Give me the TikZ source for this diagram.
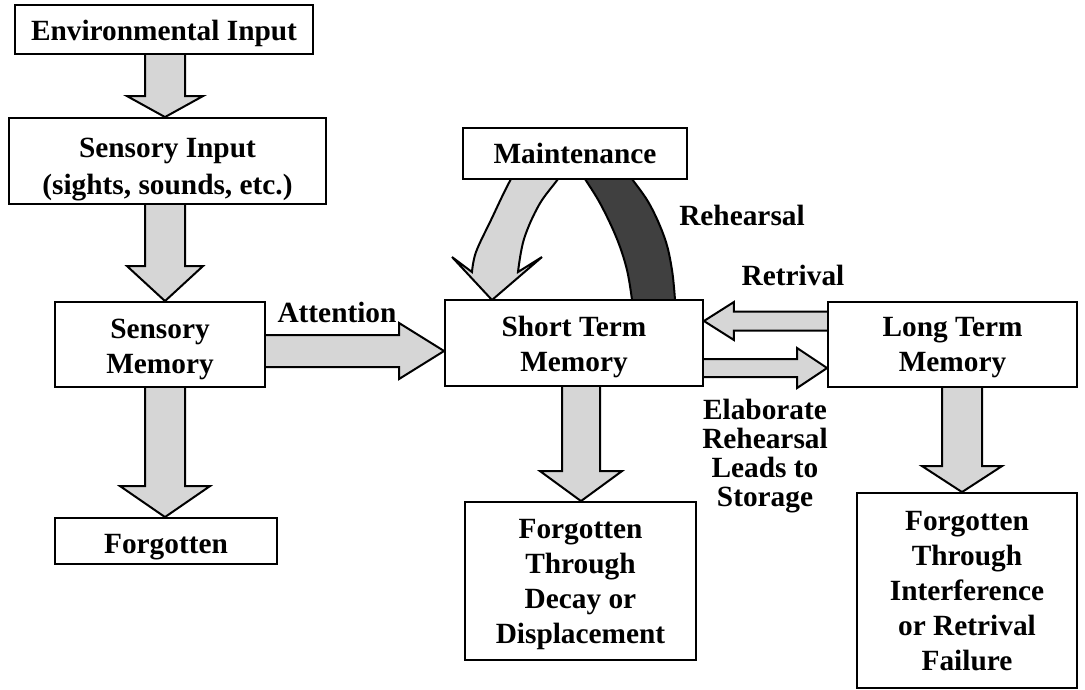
\documentclass[tikz,border=0pt]{standalone}
\usepackage{fontspec}
\setmainfont{Liberation Serif}
\usetikzlibrary{calc}
\pgfdeclarelayer{background}
\pgfsetlayers{background,main}

\definecolor{shaftgray}{RGB}{214,214,214}
\definecolor{archdark}{RGB}{64,64,64}

\tikzset{
  box/.style={draw=black, line width=1.4pt, fill=white, align=center, inner sep=0pt,
    font=\bfseries\fontsize{22}{26.25}\selectfont},
  blockarrow/.style={draw=black, line width=1.5pt, fill=shaftgray, line join=miter},
  archband/.style={draw=black, line width=1.5pt, line join=miter},
  caption/.style={align=center, inner sep=0pt,
    font=\bfseries\fontsize{22}{21.75}\selectfont},
}

% centred block of lines, lowered a little inside its box without changing its size
\newcommand\boxlines[2][3pt]{\raisebox{-#1}[\height][\depth]{\begin{tabular}{@{}c@{}}#2\end{tabular}}}

% block arrow pointing down: source, target, axis coordinate, half shaft, half head, head length
\newcommand\downblock[6]{%
  \draw[blockarrow]
    ($(#1.south -| #3)+(-#4,0)$) --
    ($(#2.north -| #3)+(-#4,-#6)$) --
    ($(#2.north -| #3)+(-#5,-#6)$) --
    (#2.north -| #3) --
    ($(#2.north -| #3)+(#5,-#6)$) --
    ($(#2.north -| #3)+(#4,-#6)$) --
    ($(#1.south -| #3)+(#4,0)$);
}
% block arrow pointing right
\newcommand\rightblock[6]{%
  \draw[blockarrow]
    ($(#1.east |- #3)+(0,-#4)$) --
    ($(#2.west |- #3)+(-#6,-#4)$) --
    ($(#2.west |- #3)+(-#6,-#5)$) --
    (#2.west |- #3) --
    ($(#2.west |- #3)+(-#6,#5)$) --
    ($(#2.west |- #3)+(-#6,#4)$) --
    ($(#1.east |- #3)+(0,#4)$);
}
% block arrow pointing left
\newcommand\leftblock[6]{%
  \draw[blockarrow]
    ($(#1.west |- #3)+(0,-#4)$) --
    ($(#2.east |- #3)+(#6,-#4)$) --
    ($(#2.east |- #3)+(#6,-#5)$) --
    (#2.east |- #3) --
    ($(#2.east |- #3)+(#6,#5)$) --
    ($(#2.east |- #3)+(#6,#4)$) --
    ($(#1.west |- #3)+(0,#4)$);
}

\begin{document}
\begin{tikzpicture}[x=0.75pt, y=-0.75pt]
\useasboundingbox (0,0) rectangle (1085,689);

% boxes
\node[box, minimum width=223.5pt, minimum height=36.75pt] (env) at (164,29.5) {\boxlines{Environmental Input}};
\node[box, minimum width=237.75pt, minimum height=64.5pt] (sensin) at (167.5,161)
  {\boxlines[6pt]{Sensory Input\\[2pt](sights, sounds, etc.)}};
\node[box, minimum width=157.5pt, minimum height=63.75pt] (sensmem) at (160,344.5) {\boxlines{Sensory\\Memory}};
\node[box, minimum width=166.5pt, minimum height=34.5pt] (forgot1) at (166,541) {\boxlines[4pt]{Forgotten}};
\node[box, minimum width=193.5pt, minimum height=64.5pt] (stm) at (574,343) {\boxlines{Short Term\\Memory}};
\node[box, minimum width=168pt, minimum height=38.25pt] (maint) at (575,153.5) {\boxlines[2pt]{Maintenance}};
\node[box, minimum width=186.75pt, minimum height=63.75pt] (ltm) at (952.5,344.5) {\boxlines[2pt]{Long Term\\Memory}};
\node[box, minimum width=173.25pt, minimum height=118.5pt] (forgot2) at (580.5,581)
  {\boxlines[2pt]{Forgotten\\Through\\Decay or\\Displacement}};
\node[box, minimum width=165pt, minimum height=146.25pt] (forgot3) at (967,590.5)
  {\boxlines[2.5pt]{Forgotten\\Through\\Interference\\or Retrival\\Failure}};

% arrow axes
\coordinate (ax1) at (165,0);
\coordinate (ax4) at (581,0);
\coordinate (ax5) at (962,0);
\coordinate (attn) at (0,351);
\coordinate (retr) at (0,321);
\coordinate (elab) at (0,368);

\begin{pgfonlayer}{background}
  \downblock{env}{sensin}{ax1}{20}{38}{21}
  \downblock{sensin}{sensmem}{ax1}{20}{38}{35}
  \downblock{sensmem}{forgot1}{ax1}{20}{45}{31}
  \downblock{stm}{forgot2}{ax4}{19}{41}{30}
  \downblock{ltm}{forgot3}{ax5}{20}{40}{26}
  \rightblock{sensmem}{stm}{attn}{16}{28}{45}
  \leftblock{ltm}{stm}{retr}{9.5}{19}{30}
  \rightblock{stm}{ltm}{elab}{9}{20}{30}

  % maintenance loop: light band ending in an arrowhead on the left
  \draw[archband, fill=shaftgray]
    plot[smooth, tension=0.6] coordinates {(530,150) (511,179) (491,220) (476,252) (472,272)} --
    (452,257) -- (492,300) -- (542,257) -- (518,272) --
    plot[smooth, tension=0.6] coordinates {(518,272) (524,239) (539,205) (558,179) (575,155)} -- cycle;
  % dark band on the right
  \draw[archband, fill=archdark]
    plot[smooth, tension=0.6] coordinates {(566,150) (585,179) (601,205) (617,239) (627,270) (632,300)} --
    plot[smooth, tension=0.6] coordinates {(675,300) (672,270) (665,239) (650,205) (632,179) (610,150)} -- cycle;
\end{pgfonlayer}

% labels
\node[caption] (attnlabel) at (337,312) {Attention};
\node[caption] (rehlabel) at (742,215) {Rehearsal};
\node[caption] (retrlabel) at (793,275) {Retrival};
\node[caption] (elablabel) at (765,456) {Elaborate\\Rehearsal\\Leads to\\Storage};
\end{tikzpicture}
\end{document}
